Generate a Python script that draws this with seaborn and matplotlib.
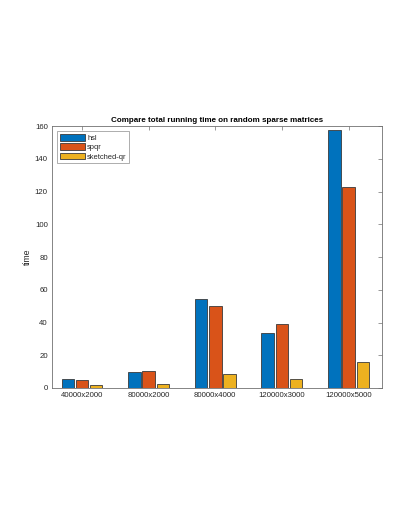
import matplotlib
matplotlib.use("Agg")
import matplotlib.pyplot as plt
import seaborn as sns
import pandas as pd

categories = ["40000x2000", "80000x2000", "80000x4000", "120000x3000", "120000x5000"]
methods = ["hsl", "spqr", "sketched-qr"]
hsl = [5.7, 9.8, 54.4, 33.8, 157.5]
spqr = [5.1, 10.6, 50.3, 39.3, 123.0]
sketched = [1.8, 2.4, 8.6, 5.7, 16.1]
yticks = [0, 20, 40, 60, 80, 100, 120, 140, 160]

rows = []
for m, vals in zip(methods, [hsl, spqr, sketched]):
    for c, v in zip(categories, vals):
        rows.append({"size": c, "method": m, "time": v})
df = pd.DataFrame(rows)

sns.set_style("white")
plt.rcParams["font.family"] = ["Liberation Sans", "DejaVu Sans"]

fig = plt.figure(figsize=(3.97, 5.30), dpi=100)
ax = fig.add_axes([0.131, 0.268, 0.831, 0.494])

palette = ["#0072BD", "#D95319", "#EDB120"]
sns.barplot(data=df, x="size", y="time", hue="method", palette=palette,
            width=0.64, gap=0.12, edgecolor="#3a3a3a", linewidth=0.6,
            saturation=1, ax=ax, order=categories, hue_order=methods)

ax.set_xlim(-0.45, 4.5)
ax.set_ylim(0, 160)
ax.set_yticks(yticks)
ax.set_title("Compare total running time on random sparse matrices",
             fontsize=5.8, fontweight="bold", pad=3, color="black")
ax.set_ylabel("time", fontsize=6.3, labelpad=2, color="#262626")
ax.set_xlabel("")
ax.tick_params(axis="both", which="both", direction="in", length=3,
               width=0.5, color="#707070", labelsize=5.6, top=True, right=True,
               pad=3, labelcolor="#262626")
for s in ax.spines.values():
    s.set_color("#707070")
    s.set_linewidth(0.6)
    s.set_visible(True)

leg = ax.legend(loc="upper left", fontsize=5.4, frameon=True, fancybox=False,
                edgecolor="#707070", handlelength=3.3, handleheight=1.0,
                borderpad=0.35, labelspacing=0.2, handletextpad=0.3,
                bbox_to_anchor=(0.005, 0.995))
leg.get_frame().set_linewidth(0.5)

fig.savefig("out.png", dpi=100)
